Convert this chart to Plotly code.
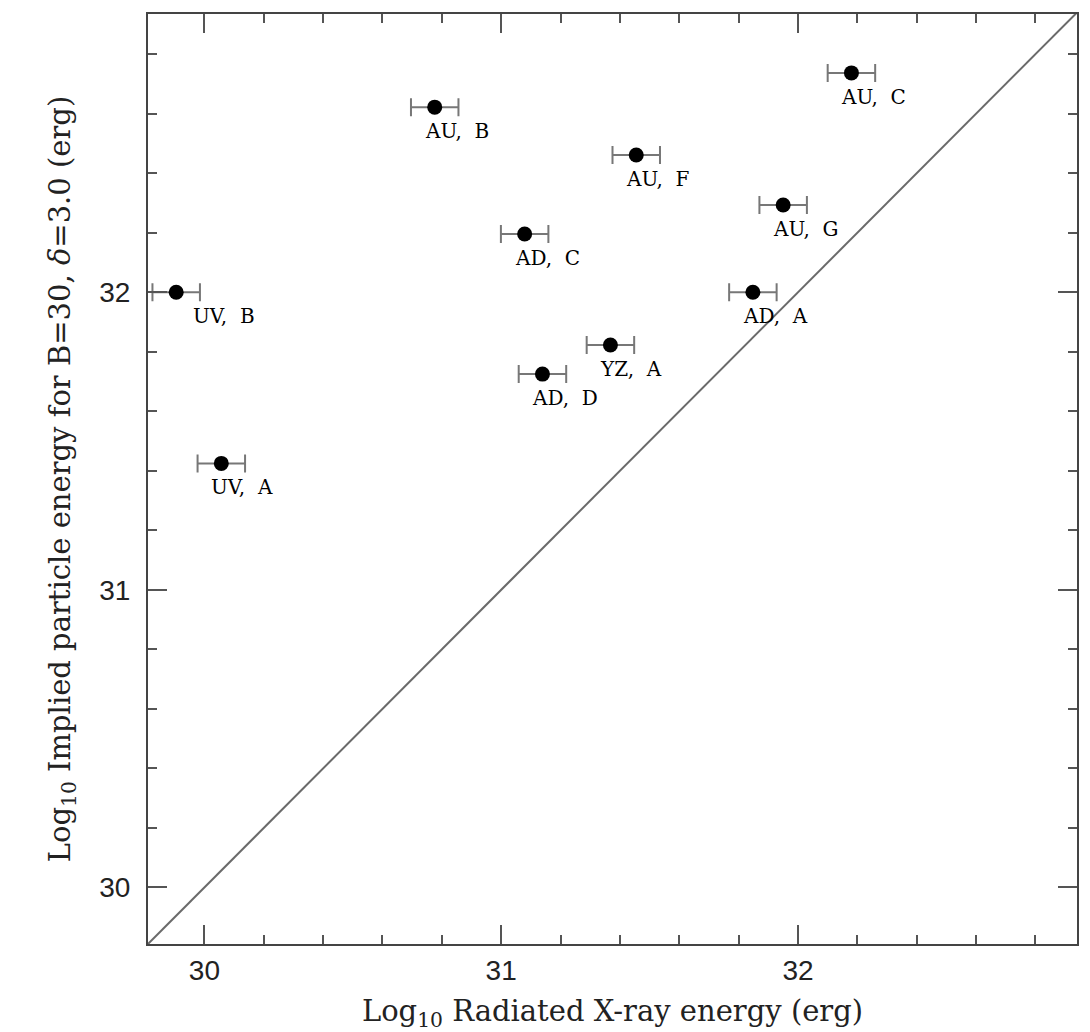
import plotly.graph_objects as go

# Data
labels = ["AU, C", "AU, B", "AU, F", "AU, G", "AD, C", "UV, B", "AD, A", "YZ, A", "AD, D", "UV, A"]
x_rad = [32.18, 30.776, 31.455, 31.95, 31.079, 29.905, 31.848, 31.368, 31.139, 30.057]
y_part = [32.737, 32.622, 32.461, 32.293, 32.196, 32.0, 32.0, 31.823, 31.725, 31.425]
x_err = [0.08, 0.08, 0.08, 0.08, 0.08, 0.08, 0.08, 0.08, 0.08, 0.08]
label_dx = [-12, -12, -12, -12, -12, 15, -12, -12, -12, -12]

x_range = [29.81, 32.94]
y_range = [29.81, 32.935]
tick_vals = [30, 31, 32]

serif = "DejaVu Serif"
sans = "Liberation Sans"

fig = go.Figure()

# one-to-one line
fig.add_trace(go.Scatter(
    x=x_range, y=x_range, mode="lines",
    line=dict(color="#6a6a6a", width=2), hoverinfo="skip", showlegend=False,
))

fig.add_trace(go.Scatter(
    x=x_rad, y=y_part, mode="markers",
    marker=dict(color="black", size=15, symbol="circle"),
    error_x=dict(type="data", array=x_err, visible=True, color="#777777",
                 thickness=2, width=9),
    showlegend=False,
))

for lab, x, y, dx in zip(labels, x_rad, y_part, label_dx):
    fig.add_annotation(
        x=x, y=y, text=lab.replace(", ", ",\u00a0 "), showarrow=False,
        xanchor="left", yanchor="middle", xshift=dx, yshift=-24,
        font=dict(family=serif, size=20, color="black"),
    )

axis_common = dict(
    showgrid=False, zeroline=False, showline=True, linecolor="#444444", linewidth=2,
    mirror="allticks", ticks="inside", ticklen=19, tickwidth=1.5, tickcolor="#555555",
    tickmode="array", tickvals=tick_vals, automargin=False,
    tickfont=dict(family=sans, size=28, color="#222222"),
    minor=dict(dtick=0.2, tick0=30, ticks="inside", ticklen=9, tickwidth=1.5, tickcolor="#555555"),
)

fig.update_xaxes(
    range=x_range, **axis_common,
    title=dict(text="Log<sub>10</sub> Radiated X-ray energy (erg)",
               font=dict(family=serif, size=29, color="#222222"), standoff=24),
)
fig.update_yaxes(
    range=y_range, **axis_common, ticklabelstandoff=10,
    title=dict(text="Log<sub>10</sub> Implied particle energy for B=30, <i>δ</i>=3.0 (erg)",
               font=dict(family=serif, size=29, color="#222222"), standoff=20),
)

# page body has an 8px margin: offset the figure so the plot frame lands where the reference has it
fig.update_layout(
    width=1074, height=1024,
    margin=dict(l=140, r=5, t=6, b=88),
    paper_bgcolor="white", plot_bgcolor="white",
)

fig.write_html("out.html")
